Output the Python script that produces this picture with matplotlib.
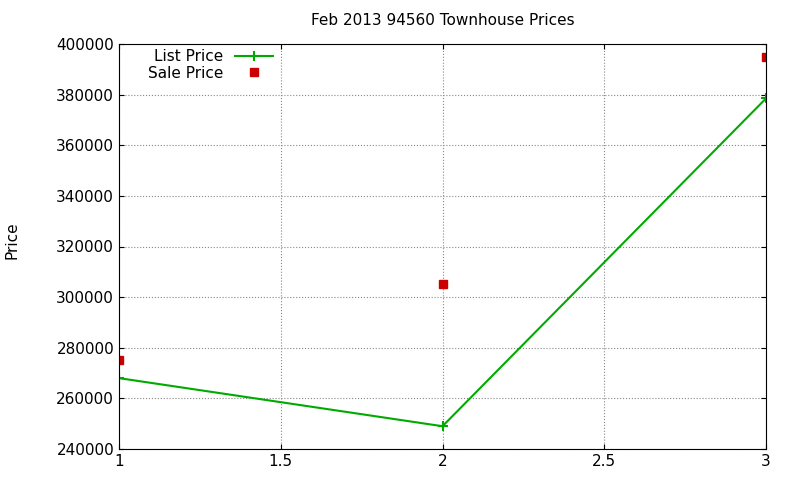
import matplotlib
matplotlib.use("Agg")
import matplotlib.pyplot as plt

x = [1, 2, 3]
list_price = [268000, 249000, 378500]
sale_price = [275000, 305000, 395000]

fig = plt.figure(figsize=(8, 4.8), dpi=100)
ax = fig.add_axes([119/800, 1 - 449/480, (766-119)/800, (449-44)/480])

ax.plot(x, list_price, color="#00aa00", lw=1.5, marker="+", ms=7, mew=1.5, label="List Price")
ax.plot(x, sale_price, ls="none", marker="s", ms=6, color="#cc0000", label="Sale Price")

ax.set_xlim(1, 3)
ax.set_ylim(240000, 400000)
ax.set_xticks([1, 1.5, 2, 2.5, 3])
ax.set_xticklabels(["1", "1.5", "2", "2.5", "3"])
ax.set_yticks(range(240000, 400001, 20000))
ax.tick_params(direction="in", top=True, right=True, labelsize=11)
ax.grid(True, ls=":", color="#888888", lw=0.8)
ax.set_title("Feb 2013 94560 Townhouse Prices", fontsize=11, pad=14)
fig.text(12/800, 0.5, "Price", rotation=90, va="center", ha="center", fontsize=11)
ax.legend(loc="upper left", markerfirst=False, frameon=False, fontsize=11,
          borderaxespad=0.2, handlelength=2.5, labelspacing=0.1, bbox_to_anchor=(0.03, 1.01))

fig.savefig("out.png", dpi=100)
